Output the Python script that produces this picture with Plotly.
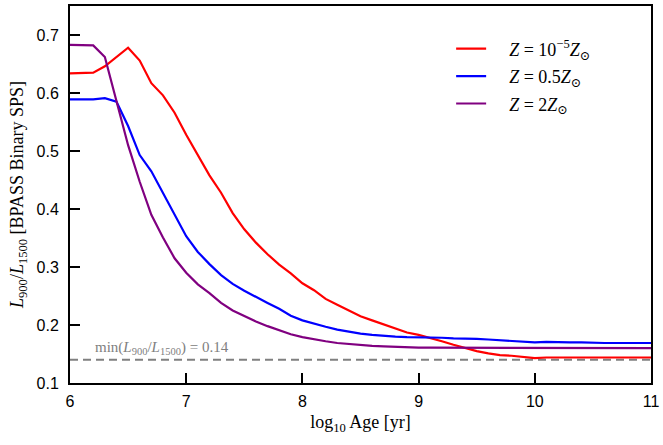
import plotly.graph_objects as go

log_age = [6.0, 6.1, 6.2, 6.3, 6.4, 6.5, 6.6, 6.7, 6.8, 6.9,
           7.0, 7.1, 7.2, 7.3, 7.4, 7.5, 7.6, 7.7, 7.8, 7.9,
           8.0, 8.1, 8.2, 8.3, 8.4, 8.5, 8.6, 8.7, 8.8, 8.9,
           9.0, 9.1, 9.2, 9.3, 9.4, 9.5, 9.6, 9.7, 9.8, 9.9,
           10.0, 10.1, 10.2, 10.3, 10.4, 10.5, 10.6, 10.7, 10.8, 10.9, 11.0]

ratio_z1e5 = [0.634, 0.634, 0.635, 0.646, 0.662, 0.678, 0.656, 0.617, 0.596, 0.566,
              0.528, 0.492, 0.458, 0.428, 0.393, 0.365, 0.342, 0.322, 0.304, 0.289,
              0.272, 0.260, 0.245, 0.235, 0.225, 0.215, 0.208, 0.201, 0.194, 0.187,
              0.183, 0.178, 0.172, 0.166, 0.160, 0.155, 0.151, 0.148, 0.147, 0.145,
              0.143, 0.144, 0.144, 0.144, 0.144, 0.144, 0.144, 0.144, 0.144, 0.144, 0.144]

ratio_z05 = [0.589, 0.589, 0.589, 0.591, 0.585, 0.543, 0.493, 0.465, 0.428, 0.390,
             0.353, 0.326, 0.305, 0.286, 0.271, 0.259, 0.248, 0.238, 0.228, 0.216,
             0.208, 0.202, 0.197, 0.192, 0.188, 0.185, 0.183, 0.181, 0.180, 0.179,
             0.179, 0.178, 0.178, 0.177, 0.177, 0.176, 0.175, 0.174, 0.173, 0.172,
             0.170, 0.171, 0.170, 0.170, 0.170, 0.169, 0.169, 0.169, 0.169, 0.169, 0.169]

ratio_z2 = [0.683, 0.683, 0.682, 0.662, 0.588, 0.510, 0.447, 0.390, 0.351, 0.315,
            0.290, 0.270, 0.255, 0.238, 0.225, 0.215, 0.206, 0.198, 0.191, 0.184,
            0.179, 0.175, 0.172, 0.169, 0.167, 0.165, 0.164, 0.163, 0.162, 0.162,
            0.161, 0.161, 0.161, 0.161, 0.161, 0.160, 0.160, 0.160, 0.160, 0.160,
            0.160, 0.160, 0.160, 0.160, 0.160, 0.160, 0.160, 0.160, 0.160, 0.160, 0.160]

min_ratio = 0.14

series_names = ["<i>Z</i> = 10<sup>−5</sup><i>Z</i><sub>⊙</sub>",
                "<i>Z</i> = 0.5<i>Z</i><sub>⊙</sub>",
                "<i>Z</i> = 2<i>Z</i><sub>⊙</sub>"]
series_colors = ["#ff0000", "#0000ff", "#800080"]
series_values = [ratio_z1e5, ratio_z05, ratio_z2]

x_ticks = [6, 7, 8, 9, 10, 11]
y_ticks = [0.1, 0.2, 0.3, 0.4, 0.5, 0.6, 0.7]

serif = "Liberation Serif, DejaVu Serif, serif"
sans = "Liberation Sans, Arial, sans-serif"

fig = go.Figure()

fig.add_trace(go.Scatter(
    x=[log_age[0], log_age[-1]], y=[min_ratio, min_ratio], mode="lines",
    line=dict(color="#808080", width=2, dash="8px,5px"), showlegend=False,
    hoverinfo="skip"))

for i, (name, col, vals) in enumerate(zip(series_names, series_colors, series_values)):
    fig.add_trace(go.Scatter(
        x=log_age, y=vals, mode="lines", name="\u00a0\u00a0\u00a0\u00a0" + name,
        legendgroup="g%d" % i,
        line=dict(color=col, width=2.2)))

fig.add_annotation(
    x=6.2, y=min_ratio, xref="x", yref="y", xanchor="left", yanchor="bottom",
    yshift=1, showarrow=False,
    text="min(<i>L</i><sub>900</sub>/<i>L</i><sub>1500</sub>) = 0.14",
    font=dict(family=serif, size=15, color="#808080"))

axis_common = dict(
    showgrid=False, zeroline=False, showline=True, linecolor="black", linewidth=2,
    mirror=True, ticks="inside", ticklen=10, tickwidth=2, tickcolor="black",
    tickfont=dict(family=sans, size=16, color="black"))

fig.update_xaxes(
    range=[6, 11], tickvals=x_ticks, ticktext=[str(v) for v in x_ticks],
    ticklabelstandoff=3,
    title=dict(text="log<sub>10</sub> Age [yr]", font=dict(family=serif, size=18, color="black"),
               standoff=6),
    **axis_common)
fig.update_yaxes(
    range=[0.1, 0.75], tickvals=y_ticks, ticktext=["%.1f" % v for v in y_ticks],
    ticklabelstandoff=6,
    title=dict(text="<i>L</i><sub>900</sub>/<i>L</i><sub>1500</sub> [BPASS Binary SPS]",
               font=dict(family=serif, size=18, color="black"), standoff=8),
    **axis_common)

fig.update_layout(
    width=663, height=445,
    margin=dict(l=70, r=10, t=4, b=62),
    plot_bgcolor="white", paper_bgcolor="white",
    legend=dict(x=0.656, y=0.935, xanchor="left", yanchor="top",
                bgcolor="rgba(0,0,0,0)", borderwidth=0, tracegroupgap=1,
                font=dict(family=serif, size=18, color="black")),
)

fig.write_html("out.html")
